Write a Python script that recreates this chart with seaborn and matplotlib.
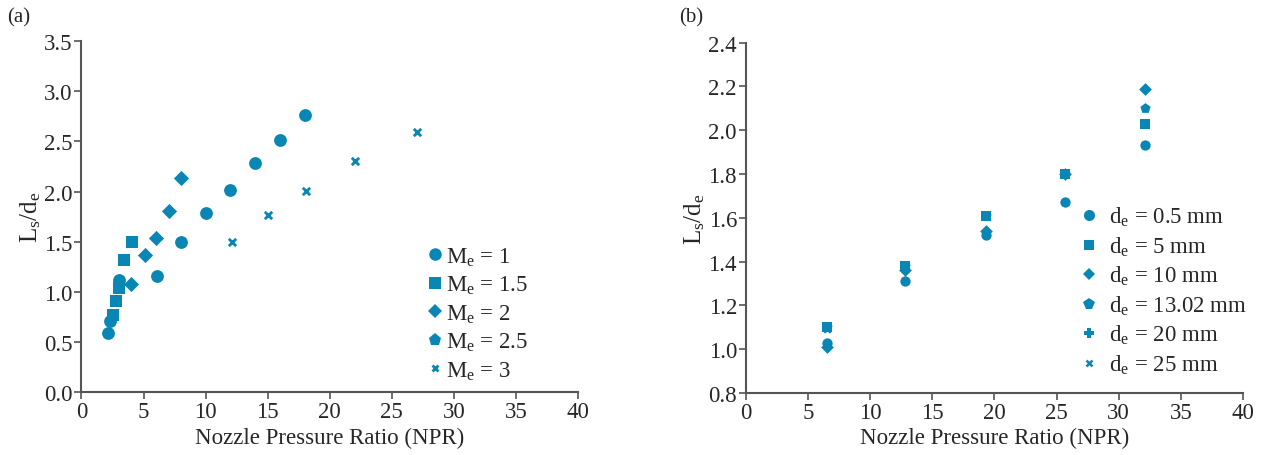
import numpy as np
import pandas as pd
import seaborn as sns
import matplotlib
matplotlib.use('Agg')
import matplotlib.pyplot as plt
from matplotlib.lines import Line2D

# panel (a): separation distance vs NPR for several exit Mach numbers
npr_m1 = [2.1, 2.3, 3.0, 6.1, 8.0, 10.0, 12.0, 14.0, 16.0, 18.0]
ls_m1 = [0.59, 0.71, 1.12, 1.16, 1.50, 1.79, 2.02, 2.28, 2.51, 2.76]
npr_m15 = [2.55, 2.75, 3.05, 3.45, 4.1]
ls_m15 = [0.77, 0.91, 1.04, 1.32, 1.50]
npr_m2 = [4.0, 5.1, 6.0, 7.05, 8.0]
ls_m2 = [1.08, 1.37, 1.54, 1.81, 2.13]
npr_m25 = []
ls_m25 = []
npr_m3 = [12.1, 15.05, 18.05, 22.0, 27.0]
ls_m3 = [1.50, 1.77, 2.01, 2.30, 2.59]
mach_labels = ['1', '1.5', '2', '2.5', '3']

# panel (b): separation distance vs NPR for several exit diameters
npr_b = [6.5, 12.8, 19.3, 25.7, 32.1]
ls_d05 = [1.03, 1.31, 1.52, 1.67, 1.93]
ls_d5 = [1.10, 1.38, 1.61, 1.80, 2.03]
ls_d10 = [1.01, 1.36, 1.54, 1.80, 2.19]
ls_d1302 = [1.10, 1.38, 1.61, 1.80, 2.10]
ls_d20 = [1.10, 1.38, 1.61, 1.80]
ls_d25 = [1.09, 1.37, 1.61, 1.80]
diam_labels = ['0.5', '5', '10', '13.02', '20', '25']

blue = '#0a86b4'
axis_col = '#555555'

sns.set_style('white')
plt.rcParams['font.family'] = ['Liberation Serif', 'DejaVu Serif']
plt.rcParams['mathtext.fontset'] = 'custom'
plt.rcParams['mathtext.rm'] = 'Liberation Serif'
plt.rcParams['mathtext.it'] = 'Liberation Serif'
plt.rcParams['font.size'] = 16

fig = plt.figure(figsize=(12.65, 4.56), dpi=100)
ax1 = fig.add_axes([0.0644, 0.1375, 0.3926, 0.7705])
ax2 = fig.add_axes([0.5897, 0.136, 0.3929, 0.7685])

rows = []
series_a = [(npr_m1, ls_m1), (npr_m15, ls_m15), (npr_m2, ls_m2), (npr_m25, ls_m25), (npr_m3, ls_m3)]
for lab, (xs, ys) in zip(mach_labels, series_a):
    for x, y in zip(xs, ys):
        rows.append({'NPR': x, 'Ls': y, 'Me': lab})
df_a = pd.DataFrame(rows)

rows = []
series_b = [ls_d05, ls_d5, ls_d10, ls_d1302, ls_d20, ls_d25]
for lab, ys in zip(diam_labels, series_b):
    for x, y in zip(npr_b, ys):
        rows.append({'NPR': x, 'Ls': y, 'de': lab})
df_b = pd.DataFrame(rows)

marks_a = {'1': 'o', '1.5': 's', '2': 'D', '2.5': 'p', '3': 'x'}
size_a = {'1': 85, '1.5': 75, '2': 60, '2.5': 85, '3': 28}
for lab in mach_labels:
    sub = df_a[df_a['Me'] == lab]
    if len(sub) == 0:
        continue
    lw = 2 if lab == '3' else 0
    sns.scatterplot(data=sub, x='NPR', y='Ls', marker=marks_a[lab], s=size_a[lab],
                    color=blue, linewidth=lw, ax=ax1, zorder=3)

marks_b = {'0.5': 'o', '5': 's', '10': 'D', '13.02': 'p', '20': 'P', '25': 'x'}
size_b = {'0.5': 55, '5': 50, '10': 42, '13.02': 60, '20': 45, '25': 22}
for lab in diam_labels:
    sub = df_b[df_b['de'] == lab]
    lw = 1.8 if lab == '25' else 0
    sns.scatterplot(data=sub, x='NPR', y='Ls', marker=marks_b[lab], s=size_b[lab],
                    color=blue, linewidth=lw, ax=ax2, zorder=3)

for ax in (ax1, ax2):
    ax.set_xlim(0, 40)
    ax.set_xticks(range(0, 41, 5))
    ax.set_xlabel('Nozzle Pressure Ratio (NPR)', fontsize=16.5, labelpad=3)
    ax.set_ylabel(r'L$_\mathregular{s}$/d$_\mathregular{e}$', fontsize=18, labelpad=1)
    for s in ('top', 'right'):
        ax.spines[s].set_visible(False)
    for s in ('left', 'bottom'):
        ax.spines[s].set_color(axis_col)
        ax.spines[s].set_linewidth(1.5)
    ax.tick_params(axis='both', direction='out', length=5, width=1.2, color=axis_col,
                   labelsize=16.5, pad=1.5, left=True, bottom=True)

ax1.set_ylim(0, 3.5)
ax1.set_yticks(np.arange(0, 3.51, 0.5))
ax1.set_yticklabels([f'{v:.1f}' for v in np.arange(0, 3.51, 0.5)])
ax2.set_ylim(0.8, 2.4)
ax2.set_yticks(np.arange(0.8, 2.41, 0.2))
ax2.set_yticklabels([f'{v:.1f}' for v in np.arange(0.8, 2.41, 0.2)])

def handle(m, lw=0, ms=8):
    return Line2D([], [], linestyle='', marker=m, color=blue, markersize=ms,
                  markeredgewidth=lw, markeredgecolor=blue)

h_a = [handle('o', ms=9), handle('s', ms=8.5), handle('D', ms=7.5), handle('p', ms=9.5), handle('x', 2, 5)]
l_a = [r'M$_\mathregular{e}$ = ' + m for m in mach_labels]
ax1.legend(h_a, l_a, loc='upper left', bbox_to_anchor=(0.698, 0.418), frameon=False,
           fontsize=16.5, handlelength=0.6, handletextpad=0.2, labelspacing=0.27,
           borderaxespad=0, borderpad=0)

h_b = [handle('o', ms=8), handle('s', ms=7.5), handle('D', ms=6.5), handle('p', ms=8.5),
       handle('P', ms=7.5), handle('x', 1.8, 5)]
l_b = [r'd$_\mathregular{e}$ = ' + d + ' mm' for d in diam_labels]
ax2.legend(h_b, l_b, loc='upper left', bbox_to_anchor=(0.672, 0.536), frameon=False,
           fontsize=16.5, handlelength=0.8, handletextpad=0.47, labelspacing=0.27,
           borderaxespad=0, borderpad=0)

fig.text(0.006, 0.96, '(a)', fontsize=15, va='center')
fig.text(0.537, 0.96, '(b)', fontsize=15, va='center')

fig.savefig('out.png', dpi=100)
